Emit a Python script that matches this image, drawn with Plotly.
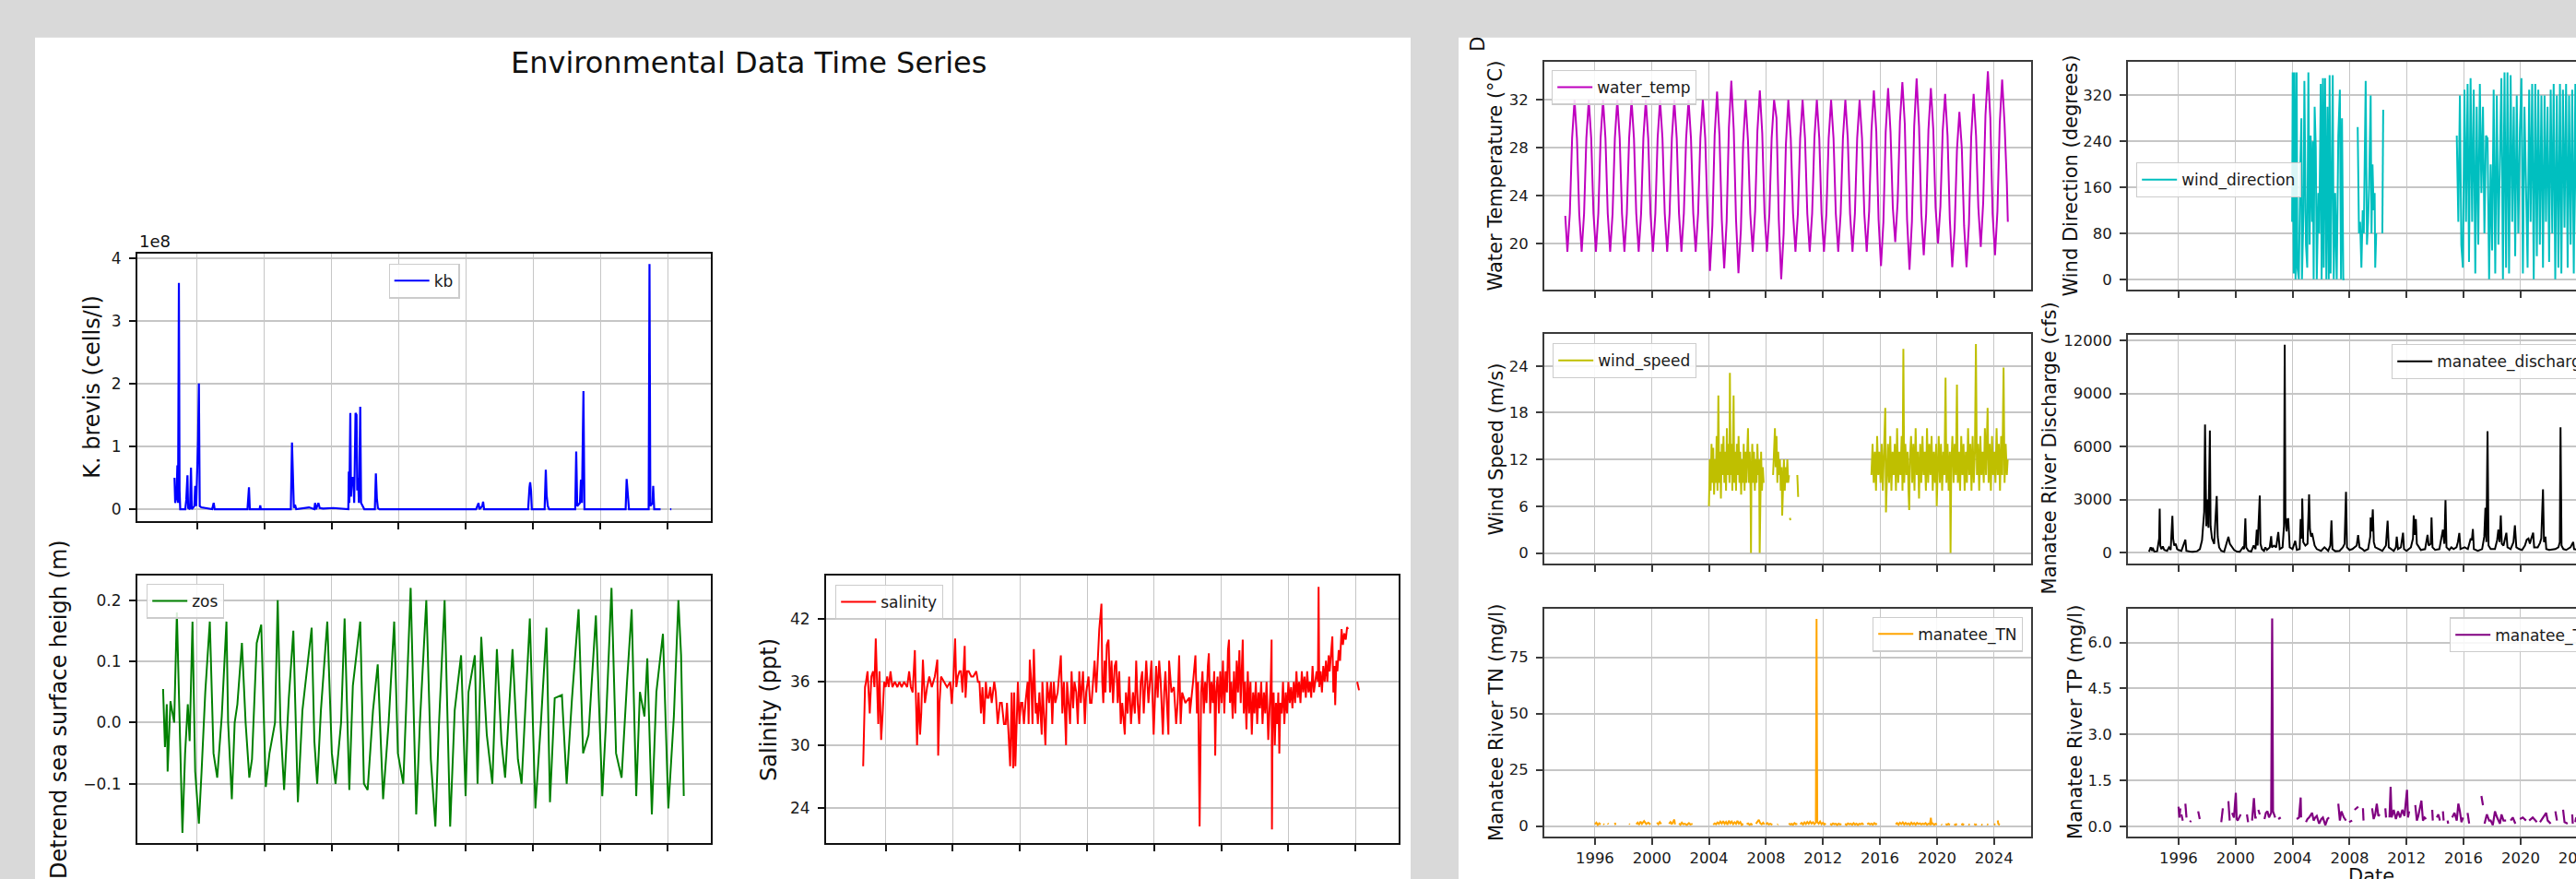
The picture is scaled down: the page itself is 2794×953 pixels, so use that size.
import plotly.graph_objects as go

# ---------------- data ----------------
kb_year = [1994.66, 1994.70, 1994.78, 1994.83, 1994.87, 1994.92, 1994.96, 1995.00,
           1995.30, 1995.36, 1995.43, 1995.47,
           1995.58, 1995.64, 1995.69,
           1995.84, 1995.89, 1995.95,
           1996.06, 1996.11, 1996.16, 1996.25,
           1996.90, 1996.99, 1997.05,
           1999.00, 1999.09, 1999.14,
           1999.72, 1999.76, 1999.80,
           2001.58, 2001.65, 2001.70, 2001.76, 2001.83, 2001.90,
           2002.66,
           2002.98, 2003.02, 2003.08, 2003.22, 2003.30, 2003.50,
           2004.10,
           2005.00, 2005.03, 2005.06, 2005.12, 2005.16, 2005.22, 2005.30, 2005.35, 2005.43,
           2005.49, 2005.53, 2005.58, 2005.63, 2005.71, 2005.76, 2005.86, 2005.95,
           2006.58, 2006.64, 2006.70, 2006.76, 2006.85,
           2009.00, 2012.60,
           2012.75, 2012.80, 2012.97, 2013.02, 2013.08,
           2015.70, 2015.78, 2015.82, 2015.87, 2015.92,
           2016.68, 2016.75, 2016.80, 2016.87, 2016.95,
           2018.50, 2018.56, 2018.62, 2018.78, 2018.84, 2018.90, 2018.99, 2019.05,
           2021.50, 2021.56, 2021.62, 2021.70,
           2022.87, 2022.92, 2022.97, 2023.10, 2023.14, 2023.20, 2023.58,
           None, 2024.15, 2024.22]
kb_cells = [0.5e8, 0.1e8, 0.2e8, 0.7e8, 0.1e8, 3.6e8, 0.3e8, 0,
            0, 0.15e8, 0.54e8, 0.02e8,
            0, 0.66e8, 0,
            0.05e8, 0.37e8, 0.05e8,
            1.1e8, 2.0e8, 0.05e8, 0.03e8,
            0, 0.1e8, 0,
            0, 0.35e8, 0,
            0, 0.06e8, 0,
            0, 1.06e8, 0.35e8, 0.02e8, 0.07e8, 0,
            0.03e8,
            0, 0.1e8, 0, 0.1e8, 0.02e8, 0.01e8,
            0.02e8,
            0, 0.6e8, 0.1e8, 1.53e8, 0.2e8, 0.5e8, 0.5e8, 0.1e8, 1.53e8,
            1.5e8, 0.3e8, 0.5e8, 0.1e8, 1.63e8, 0.1e8, 0.05e8, 0,
            0, 0.57e8, 0.17e8, 0.02e8, 0,
            0, 0,
            0.1e8, 0, 0.05e8, 0.12e8, 0,
            0, 0.35e8, 0.43e8, 0.3e8, 0,
            0, 0.63e8, 0.22e8, 0.05e8, 0,
            0, 0.92e8, 0.05e8, 0.1e8, 0.47e8, 0.1e8, 1.88e8, 0,
            0, 0.48e8, 0.22e8, 0,
            0, 3.9e8, 0.05e8, 0.1e8, 0.37e8, 0, 0,
            None, 0, 0]

zos_year = [1993.98, 1994.09, 1994.20, 1994.25, 1994.42, 1994.64, 1994.80, 1994.96, 1995.13, 1995.29,
            1995.45, 1995.56, 1995.73, 1995.89, 1996.11, 1996.27, 1996.49, 1996.76, 1996.98, 1997.20,
            1997.47, 1997.75, 1997.85, 1998.07, 1998.24, 1998.40, 1998.67, 1998.89, 1999.11, 1999.27,
            1999.55, 1999.82, 2000.09, 2000.31, 2000.53, 2000.64, 2000.80, 2000.96, 2001.18, 2001.46,
            2001.73, 2002.00, 2002.27, 2002.82, 2002.98, 2003.15, 2003.37, 2003.75, 2004.02, 2004.24,
            2004.57, 2004.78, 2005.06, 2005.27, 2005.71, 2005.93, 2006.15, 2006.47, 2006.75, 2007.07,
            2007.40, 2007.73, 2007.95, 2008.27, 2008.71, 2009.04, 2009.26, 2009.64, 2009.91, 2010.18,
            2010.40, 2010.73, 2011.06, 2011.33, 2011.71, 2011.98, 2012.15, 2012.53, 2012.69, 2012.91,
            2013.24, 2013.57, 2013.84, 2014.11, 2014.33, 2014.77, 2015.09, 2015.31, 2015.80, 2016.13,
            2016.46, 2016.79, 2017.00, 2017.28, 2017.71, 2017.99, 2018.31, 2018.70, 2018.97, 2019.29,
            2019.73, 2020.11, 2020.33, 2020.66, 2020.93, 2021.26, 2021.59, 2021.86, 2022.13, 2022.35,
            2022.62, 2022.79, 2023.06, 2023.33, 2023.72, 2024.04, 2024.37, 2024.64, 2024.80, 2024.96]
zos = [0.055, -0.04, 0.03, -0.08, 0.035, 0.0, 0.18, 0.0, -0.18, -0.05,
       0.03, -0.03, 0.165, -0.08, -0.165, -0.08, 0.05, 0.165, -0.05, -0.09,
       0.01, 0.165, 0.0, -0.125, 0.0, 0.03, 0.13, 0.0, -0.09, -0.06,
       0.13, 0.16, -0.105, -0.05, -0.02, 0.0, 0.2, 0.0, -0.11, 0.04,
       0.15, -0.13, 0.02, 0.155, -0.03, -0.1, 0.02, 0.165, -0.05, -0.1,
       0.0, 0.17, -0.11, 0.06, 0.165, -0.1, -0.11, 0.02, 0.095, -0.125,
       0.0, 0.165, -0.05, -0.1, 0.22, -0.15, 0.0, 0.2, -0.06, -0.17,
       0.0, 0.2, -0.17, 0.02, 0.11, -0.12, 0.05, 0.11, -0.1, 0.14,
       -0.02, -0.1, 0.12, -0.03, -0.09, 0.12, -0.06, -0.1, 0.17, -0.14,
       0.0, 0.155, -0.13, 0.04, 0.045, -0.1, 0.04, 0.185, -0.05, -0.02,
       0.175, -0.12, 0.0, 0.22, -0.05, -0.09, 0.07, 0.185, -0.12, 0.05,
       0.01, 0.105, -0.15, 0.05, 0.145, -0.14, 0.01, 0.2, 0.11, -0.12]

salinity_year = [
    1994.66, 1994.72, 1994.77, 1994.83, 1994.92, 1995.05, 1995.15, 1995.25, 1995.33, 1995.41,
    1995.49, 1995.56, 1995.63, 1995.73, 1995.82, 1995.91, 1996.00, 1996.09, 1996.18, 1996.29,
    1996.40, 1996.55, 1996.70, 1996.82, 1996.95, 1997.10, 1997.28, 1997.40, 1997.50, 1997.61,
    1997.74, 1997.87, 1997.96, 1998.05, 1998.12, 1998.22, 1998.34, 1998.47, 1998.60, 1998.75,
    1998.93, 1999.08, 1999.13, 1999.21, 1999.30, 1999.50, 1999.66, 1999.85, 1999.94, 2000.03,
    2000.14, 2000.21, 2000.30, 2000.40, 2000.49, 2000.58, 2000.71, 2000.76, 2000.85, 2000.95,
    2001.10, 2001.22, 2001.40, 2001.50, 2001.59, 2001.68, 2001.77, 2001.86, 2001.97, 2002.05,
    2002.14, 2002.23, 2002.32, 2002.47, 2002.56, 2002.68, 2002.81, 2002.92, 2003.05, 2003.15,
    2003.23, 2003.42, 2003.51, 2003.60, 2003.66, 2003.73, 2003.80, 2003.88, 2003.97, 2004.06,
    2004.15, 2004.24, 2004.33, 2004.46, 2004.52, 2004.59, 2004.68, 2004.75, 2004.83, 2004.94,
    2005.00, 2005.07, 2005.16, 2005.30, 2005.34, 2005.45, 2005.52, 2005.62, 2005.74, 2005.85,
    2005.93, 2006.02, 2006.11, 2006.25, 2006.44, 2006.53, 2006.62, 2006.75, 2006.81, 2006.90,
    2006.99, 2007.08, 2007.17, 2007.25, 2007.36, 2007.45, 2007.54, 2007.63, 2007.76, 2007.87,
    2007.95, 2008.09, 2008.18, 2008.27, 2008.38, 2008.45, 2008.55, 2008.65, 2008.73, 2008.86,
    2008.91, 2008.97, 2009.05, 2009.10, 2009.18, 2009.28, 2009.37, 2009.46, 2009.55, 2009.65,
    2009.74, 2009.83, 2009.92, 2010.01, 2010.10, 2010.25, 2010.32, 2010.42, 2010.51, 2010.62,
    2010.74, 2010.85, 2010.93, 2011.02, 2011.11, 2011.20, 2011.29, 2011.38, 2011.53, 2011.66,
    2011.75, 2011.84, 2011.97, 2012.12, 2012.21, 2012.30, 2012.39, 2012.52, 2012.60, 2012.67,
    2012.85, 2012.89, 2013.03, 2013.18, 2013.31, 2013.40, 2013.49, 2013.58, 2013.67, 2013.86,
    2014.10, 2014.13, 2014.32, 2014.46, 2014.55, 2014.62, 2014.71, 2014.80, 2014.88, 2014.96,
    2015.04, 2015.12, 2015.20, 2015.26, 2015.34, 2015.42, 2015.50, 2015.58, 2015.64, 2015.70,
    2015.78, 2015.86, 2015.94, 2016.02, 2016.10, 2016.18, 2016.26, 2016.34, 2016.40, 2016.46,
    2016.52, 2016.60, 2016.68, 2016.76, 2016.84, 2016.92, 2017.00, 2017.08, 2017.16, 2017.22,
    2017.28, 2017.34, 2017.42, 2017.50, 2017.58, 2017.66, 2017.74, 2017.82, 2017.90, 2017.98,
    2018.06, 2018.14, 2018.22, 2018.30, 2018.38, 2018.46, 2018.54, 2018.62, 2018.70, 2018.80,
    2018.88, 2018.95, 2019.00, 2019.02, 2019.06, 2019.12, 2019.19, 2019.26, 2019.34, 2019.40,
    2019.46, 2019.52, 2019.60, 2019.68, 2019.76, 2019.84, 2019.92, 2020.00, 2020.08, 2020.16,
    2020.24, 2020.32, 2020.40, 2020.48, 2020.56, 2020.64, 2020.72, 2020.80, 2020.88, 2020.96,
    2021.04, 2021.12, 2021.20, 2021.28, 2021.36, 2021.44, 2021.52, 2021.60, 2021.68, 2021.76,
    2021.80, 2021.84, 2021.92, 2022.00, 2022.08, 2022.16, 2022.24, 2022.32, 2022.40, 2022.46,
    2022.54, 2022.62, 2022.68, 2022.74, 2022.79, 2022.86, 2022.92, 2023.00, 2023.08, 2023.17,
    2023.25, 2023.33, 2023.42, 2023.50, 2023.55, None, 2024.10, 2024.21]
salinity = [
    28.0, 33.9, 35.5, 36.0, 37.0, 33.0, 36.5, 37.0, 35.5, 40.1,
    35.0, 32.0, 37.0, 30.5, 33.0, 36.0, 35.5, 36.5, 35.5, 37.0,
    35.5, 36.0, 35.5, 36.0, 35.5, 36.0, 35.5, 37.0, 35.5, 35.0,
    39.0, 30.0, 35.0, 31.0, 33.0, 38.1, 34.0, 35.5, 36.5, 35.5,
    36.5, 38.1, 29.0, 34.0, 36.5, 36.0, 35.5, 36.0, 33.9, 36.0,
    40.1, 35.5, 36.5, 37.0, 37.0, 35.0, 39.4, 34.5, 37.0, 37.0,
    36.5, 36.5, 37.0, 36.0, 36.0, 33.0, 35.5, 32.0, 36.0, 34.5,
    34.5, 35.5, 34.0, 36.0, 35.0, 32.0, 34.0, 34.0, 32.0, 32.0,
    34.0, 28.0, 35.0, 27.8, 35.0, 28.0, 33.0, 36.0, 32.0, 34.0,
    34.0, 32.0, 34.0, 36.0, 32.0, 38.1, 36.0, 32.0, 39.1, 33.0,
    34.0, 32.0, 35.0, 31.0, 36.0, 33.0, 30.0, 36.0, 34.0, 36.0,
    32.0, 36.0, 34.0, 35.0, 38.5, 33.0, 36.0, 30.0, 36.0, 34.0,
    32.0, 37.0, 33.5, 36.0, 35.0, 32.0, 37.0, 34.0, 37.0, 32.0,
    35.0, 36.5, 34.0, 34.0, 37.0, 38.0, 35.0, 39.0, 41.0, 43.4,
    36.0, 34.0, 38.0, 35.0, 39.5, 40.0, 35.0, 38.0, 34.0, 37.5,
    38.0, 34.0, 37.0, 32.0, 34.0, 31.0, 35.0, 33.0, 36.5, 32.0,
    35.0, 33.0, 38.0, 34.0, 32.0, 36.0, 37.0, 33.0, 38.0, 34.0,
    36.0, 38.0, 31.0, 37.5, 34.5, 38.0, 36.0, 31.0, 35.0, 37.0,
    31.0, 38.0, 35.0, 35.5, 32.0, 34.0, 38.5, 32.0, 35.0, 34.0,
    34.5, 33.0, 36.0, 38.5, 33.0, 36.0, 22.3, 35.0, 37.0, 33.0,
    36.0, 34.0, 37.5, 38.7, 33.0, 36.0, 34.0, 37.0, 29.0, 35.0,
    36.5, 33.0, 37.0, 34.0, 38.0, 33.0, 37.0, 35.0, 39.0, 40.0,
    34.0, 36.0, 32.5, 37.0, 33.0, 38.0, 35.0, 39.0, 34.0, 37.0,
    40.0, 33.0, 36.0, 31.5, 37.0, 33.0, 36.0, 31.0, 35.0, 33.0,
    36.0, 32.0, 35.0, 33.5, 36.0, 32.0, 35.0, 33.0, 36.0, 30.5,
    34.0, 36.0, 40.0, 22.0, 33.0, 35.0, 30.0, 34.0, 32.0, 35.0,
    29.2, 34.0, 33.0, 36.0, 32.0, 35.0, 33.0, 36.0, 34.0, 35.5,
    33.5, 36.0, 34.0, 37.0, 34.5, 36.0, 34.0, 37.0, 35.0, 36.5,
    34.5, 37.0, 35.0, 36.0, 34.5, 37.5, 35.0, 36.0, 37.0, 36.0,
    45.0, 35.5, 37.0, 35.0, 37.5, 36.0, 38.0, 36.0, 38.5, 37.0,
    39.0, 40.3, 35.0, 37.5, 33.8, 38.0, 37.0, 39.0, 38.0, 41.0,
    39.5, 40.6, 40.0, 41.2, 41.0, None, 36.0, 35.2]

water_temp_year = [
    1993.92, 1994.00, 1994.07, 1994.24, 1994.40, 1994.57, 1994.74, 1994.90,
    1995.07, 1995.24, 1995.40, 1995.57, 1995.74, 1995.90,
    1996.07, 1996.24, 1996.40, 1996.57, 1996.74, 1996.90,
    1997.07, 1997.24, 1997.40, 1997.57, 1997.74, 1997.90,
    1998.07, 1998.24, 1998.40, 1998.57, 1998.74, 1998.90,
    1999.07, 1999.24, 1999.40, 1999.57, 1999.74, 1999.90,
    2000.07, 2000.24, 2000.40, 2000.57, 2000.74, 2000.90,
    2001.07, 2001.24, 2001.40, 2001.57, 2001.74, 2001.90,
    2002.07, 2002.24, 2002.40, 2002.57, 2002.74, 2002.90,
    2003.07, 2003.24, 2003.40, 2003.57, 2003.74, 2003.90,
    2004.07, 2004.24, 2004.40, 2004.57, 2004.74, 2004.90,
    2005.07, 2005.24, 2005.40, 2005.57, 2005.74, 2005.90,
    2006.07, 2006.24, 2006.40, 2006.57, 2006.74, 2006.90,
    2007.07, 2007.24, 2007.40, 2007.57, 2007.74, 2007.90,
    2008.07, 2008.24, 2008.40, 2008.57, 2008.74, 2008.90,
    2009.07, 2009.24, 2009.40, 2009.57, 2009.74, 2009.90,
    2010.07, 2010.24, 2010.40, 2010.57, 2010.74, 2010.90,
    2011.07, 2011.24, 2011.40, 2011.57, 2011.74, 2011.90,
    2012.07, 2012.24, 2012.40, 2012.57, 2012.74, 2012.90,
    2013.07, 2013.24, 2013.40, 2013.57, 2013.74, 2013.90,
    2014.07, 2014.24, 2014.40, 2014.57, 2014.74, 2014.90,
    2015.07, 2015.24, 2015.40, 2015.57, 2015.74, 2015.90,
    2016.07, 2016.24, 2016.40, 2016.57, 2016.74, 2016.90,
    2017.07, 2017.24, 2017.40, 2017.57, 2017.74, 2017.90,
    2018.07, 2018.24, 2018.40, 2018.57, 2018.74, 2018.90,
    2019.07, 2019.24, 2019.40, 2019.57, 2019.74, 2019.90,
    2020.07, 2020.24, 2020.40, 2020.57, 2020.74, 2020.90,
    2021.07, 2021.24, 2021.40, 2021.57, 2021.74, 2021.90,
    2022.07, 2022.24, 2022.40, 2022.57, 2022.74, 2022.90,
    2023.07, 2023.24, 2023.40, 2023.57, 2023.74, 2023.90,
    2024.07, 2024.24, 2024.40, 2024.57, 2024.74, 2024.90,
    2024.97]
water_temp = [
    22.3, 21.0, 19.3, 22.5, 28.8, 32.0, 28.8, 22.5,
    19.3, 22.5, 28.8, 32.0, 28.8, 22.5,
    19.3, 22.5, 28.8, 32.0, 28.8, 22.5,
    19.3, 22.5, 28.8, 32.0, 28.8, 22.5,
    19.3, 22.5, 28.8, 32.0, 28.8, 22.5,
    19.3, 22.5, 28.8, 32.0, 28.8, 22.5,
    19.3, 22.5, 28.8, 32.0, 28.8, 22.5,
    19.3, 22.5, 28.8, 32.0, 28.8, 22.5,
    19.3, 22.5, 28.8, 32.0, 28.8, 22.5,
    19.3, 22.5, 28.8, 32.0, 28.8, 22.5,
    17.7, 21.5, 29.0, 32.7, 29.0, 22.0,
    17.9, 21.8, 29.7, 33.6, 29.5, 22.0,
    17.5, 21.1, 28.4, 32.0, 28.6, 22.5,
    19.3, 22.7, 29.4, 32.8, 29.2, 22.5,
    19.3, 22.5, 28.8, 32.0, 30.5, 22.0,
    17.0, 20.8, 28.3, 32.0, 28.8, 22.5,
    19.3, 22.5, 28.8, 32.0, 28.8, 22.5,
    19.3, 22.5, 28.8, 32.0, 28.8, 22.5,
    19.3, 22.5, 28.8, 32.0, 28.8, 22.5,
    19.3, 22.5, 28.8, 32.0, 28.8, 22.5,
    19.3, 22.5, 28.8, 32.0, 28.8, 22.5,
    19.3, 22.7, 29.4, 32.8, 29.4, 22.0,
    18.1, 21.8, 29.3, 33.0, 29.3, 23.0,
    20.1, 23.5, 30.2, 33.5, 30.0, 22.0,
    17.8, 21.8, 29.8, 33.8, 29.8, 22.5,
    19.0, 22.5, 29.5, 33.0, 29.5, 23.0,
    20.0, 23.1, 29.4, 32.5, 29.0, 22.0,
    18.0, 21.3, 27.8, 31.0, 28.0, 21.5,
    18.0, 21.6, 28.9, 32.5, 29.0, 23.0,
    19.7, 23.4, 30.7, 34.4, 30.5, 22.5,
    19.0, 22.7, 30.0, 33.7, 30.0, 25.0,
    21.8]

wind_direction_year = [
    2003.97, 2004.01, 2004.08, 2004.14, 2004.21, 2004.29, 2004.34, 2004.44, 2004.55, 2004.62,
    2004.66, 2004.77, 2004.83, 2004.94, 2005.03, 2005.11, 2005.20, 2005.27, 2005.37, 2005.42,
    2005.48, 2005.55, 2005.63, 2005.70, 2005.81, 2005.87, 2005.98, 2006.04, 2006.13, 2006.19,
    2006.28, 2006.37, 2006.45, 2006.54, 2006.60, 2006.67, 2006.76, 2006.82, 2006.89, 2006.99,
    2007.10, 2007.21, 2007.32, 2007.40, 2007.47, 2007.56, 2007.64, None,
    2008.57, 2008.66, 2008.74, 2008.83, 2008.92, 2009.00, 2009.13, 2009.22, 2009.30, 2009.37,
    2009.48, 2009.54, 2009.61, 2009.69, 2009.76, 2009.80, 2009.87, None, 2010.30, 2010.36, None,
    2015.52, 2015.63, 2015.74, 2015.84, 2015.95, 2016.06, 2016.17, 2016.28, 2016.38, 2016.49,
    2016.60, 2016.71, 2016.82, 2016.92, 2017.03, 2017.14, 2017.25, 2017.36, 2017.46, 2017.57,
    2017.68, 2017.79, 2017.90, 2018.00, 2018.11, 2018.22, 2018.33, 2018.44, 2018.54, 2018.65,
    2018.76, 2018.87, 2018.98, 2019.08, 2019.19, 2019.30, 2019.41, 2019.52, 2019.62, 2019.73,
    2019.84, 2019.95, 2020.06, 2020.16, 2020.27, 2020.38, 2020.49, 2020.60, 2020.70, 2020.81,
    2020.92, 2021.03, 2021.14, 2021.24, 2021.35, 2021.46, 2021.57, 2021.68, 2021.78, 2021.89,
    2022.00, 2022.11, 2022.22, 2022.32, 2022.43, 2022.54, 2022.65, 2022.76, 2022.86, 2022.97,
    2023.08, 2023.19, 2023.30, 2023.40, 2023.51, 2023.62, 2023.73, 2023.84, 2023.94,
    2024.20, 2024.50, 2024.90]
wind_direction = [
    100, 360, 10, 360, 0, 360, 20, 0, 200, 280,
    0, 120, 345, 60, 20, 360, 60, 250, 100, 240,
    0, 300, 230, 0, 150, 80, 340, 0, 350, 20,
    350, 0, 300, 0, 355, 10, 200, 355, 0, 150,
    0, 250, 330, 0, 280, 0, 0, None,
    265, 80, 100, 20, 120, 80, 345, 60, 100, 160,
    320, 80, 200, 120, 150, 20, 80, None, 80, 295, None,
    250, 100, 320, 60, 20, 330, 100, 340, 30, 350,
    100, 330, 10, 300, 60, 340, 150, 300, 80, 250,
    245, 0, 200, 50, 330, 10, 320, 60, 200, 350,
    0, 360, 20, 360, 10, 355, 100, 300, 40, 320,
    80, 260, 350, 10, 300, 150, 20, 330, 100, 340,
    0, 340, 40, 330, 60, 320, 20, 320, 100, 300,
    30, 330, 80, 340, 0, 320, 20, 340, 10, 330,
    90, 340, 20, 320, 60, 330, 10, 340, 80,
    300, 40, 250]

wind_speed_year = [
    2004.00, 2004.06, 2004.12, 2004.18, 2004.24, 2004.30, 2004.36, 2004.42, 2004.48, 2004.54,
    2004.60, 2004.66, 2004.72, 2004.78, 2004.84, 2004.90, 2004.96, 2005.02, 2005.08, 2005.14,
    2005.20, 2005.26, 2005.32, 2005.38, 2005.44, 2005.47, 2005.52, 2005.58, 2005.64, 2005.70,
    2005.73, 2005.78, 2005.84, 2005.90, 2005.96, 2006.02, 2006.08, 2006.14, 2006.20, 2006.26,
    2006.32, 2006.38, 2006.44, 2006.50, 2006.56, 2006.62, 2006.68, 2006.74, 2006.80, 2006.86,
    2006.92, 2006.95, 2006.98, 2007.04, 2007.10, 2007.16, 2007.22, 2007.28, 2007.34, 2007.40,
    2007.46, 2007.52, 2007.56, 2007.60, 2007.66, 2007.72, 2007.78, 2007.84, None,
    2008.50, 2008.56, 2008.63, 2008.68, 2008.74, 2008.80, 2008.86, 2008.92, 2008.98, 2009.04,
    2009.10, 2009.14, 2009.20, 2009.26, 2009.32, 2009.38, 2009.44, 2009.50, 2009.56, 2009.62,
    None, 2009.68, 2009.72, None, 2010.20, 2010.26, None,
    2015.40, 2015.48, 2015.56, 2015.64, 2015.72, 2015.80, 2015.88, 2015.96, 2016.04, 2016.12,
    2016.20, 2016.28, 2016.37, 2016.42, 2016.48, 2016.56, 2016.64, 2016.72, 2016.80, 2016.88,
    2016.96, 2017.04, 2017.12, 2017.20, 2017.28, 2017.36, 2017.44, 2017.52, 2017.58, 2017.64,
    2017.70, 2017.78, 2017.86, 2017.94, 2018.00, 2018.05, 2018.10, 2018.18, 2018.26, 2018.34,
    2018.42, 2018.50, 2018.58, 2018.66, 2018.74, 2018.82, 2018.90, 2018.98, 2019.06, 2019.14,
    2019.22, 2019.30, 2019.38, 2019.46, 2019.54, 2019.62, 2019.70, 2019.78, 2019.86, 2019.94,
    2019.98, 2020.04, 2020.12, 2020.20, 2020.28, 2020.36, 2020.44, 2020.52, 2020.60, 2020.66,
    2020.74, 2020.82, 2020.90, 2020.95, 2021.00, 2021.08, 2021.16, 2021.24, 2021.32, 2021.40,
    2021.46, 2021.54, 2021.62, 2021.70, 2021.78, 2021.86, 2021.94, 2022.02, 2022.10, 2022.18,
    2022.26, 2022.34, 2022.42, 2022.50, 2022.58, 2022.66, 2022.73, 2022.80, 2022.88, 2022.96,
    2023.04, 2023.12, 2023.20, 2023.28, 2023.36, 2023.44, 2023.50, 2023.55, 2023.62, 2023.70,
    2023.78, 2023.86, 2023.94, 2024.02, 2024.10, 2024.18, 2024.26, 2024.34, 2024.42, 2024.50,
    2024.58, 2024.67, 2024.74, 2024.82, 2024.90, 2024.96]
wind_speed = [
    6.0, 12, 8, 14, 9, 13.5, 7.5, 12, 9, 15,
    8, 20.2, 9, 13, 7, 14, 10, 15, 9, 13,
    8, 16, 10, 14, 9, 23.1, 10, 14, 8, 15,
    20.2, 9, 13, 8, 14, 10, 15, 9, 13, 7.5,
    12, 9, 14, 8, 13, 9, 12, 16, 9, 13,
    8, 0.0, 10, 14, 9, 13, 8, 12, 9, 14,
    10, 12, 0.0, 9, 13, 8, 11, 9, None,
    10, 14, 16, 11, 15, 9, 13, 10, 12, 8,
    11, 4.8, 10, 12, 8, 11, 9, 12, 9, 10,
    None, 4.5, 4.2, None, 10, 7.2, None,
    10, 14, 9, 13, 8, 15, 10, 13, 9, 14,
    8, 12, 18.6, 5.2, 11, 14, 9, 15, 8, 13,
    10, 14, 8, 16, 9, 13, 10, 15, 8, 26.2,
    9, 14, 10, 13, 8, 5.5, 12, 15, 9, 14,
    8, 16, 10, 13, 7, 14, 9, 15, 10, 13,
    8, 16, 9, 14, 10, 15, 8, 13, 9, 14,
    6.0, 11, 15, 9, 14, 8, 13, 10, 22.5, 9,
    14, 8, 13, 0.0, 11, 15, 9, 14, 10, 21.6,
    9, 13, 8, 15, 10, 14, 8, 13, 9, 16,
    10, 14, 8, 15, 9, 13, 26.8, 10, 14, 8,
    15, 10, 13, 9, 16, 10, 14, 18.6, 9, 14,
    8, 15, 10, 13, 9, 16, 10, 14, 8, 15,
    10, 23.8, 9, 14, 10, 12]

discharge_year = [
    1993.93, 1994.05, 1994.15, 1994.19, 1994.30, 1994.50, 1994.64, 1994.68, 1994.72, 1994.80,
    1994.90, 1995.00, 1995.20, 1995.33, 1995.45, 1995.57, 1995.62, 1995.70, 1995.80, 1995.90,
    1996.00, 1996.20, 1996.48, 1996.55, 1996.80, 1997.00, 1997.30, 1997.50, 1997.65, 1997.71,
    1997.80, 1997.86, 1997.90, 1997.95, 1998.03, 1998.10, 1998.20, 1998.25, 1998.35, 1998.50,
    1998.68, 1998.75, 1998.85, 1999.00, 1999.20, 1999.40, 1999.50, 1999.60, 1999.75, 1999.90,
    2000.10, 2000.30, 2000.51, 2000.60, 2000.69, 2000.75, 2000.90, 2001.10, 2001.27, 2001.40,
    2001.49, 2001.55, 2001.70, 2001.75, 2001.85, 2002.00, 2002.09, 2002.20, 2002.40, 2002.50,
    2002.55, 2002.70, 2002.85, 2003.00, 2003.10, 2003.30, 2003.40, 2003.45, 2003.50, 2003.58,
    2003.65, 2003.70, 2003.80, 2004.00, 2004.19, 2004.30, 2004.50, 2004.57, 2004.65, 2004.68,
    2004.75, 2004.90, 2005.05, 2005.16, 2005.22, 2005.30, 2005.37, 2005.45, 2005.55, 2005.70,
    2006.00, 2006.24, 2006.50, 2006.65, 2006.73, 2006.80, 2007.00, 2007.30, 2007.53, 2007.65,
    2007.75, 2007.82, 2008.00, 2008.20, 2008.50, 2008.60, 2008.70, 2008.90, 2009.04, 2009.30,
    2009.45, 2009.48, 2009.55, 2009.63, 2009.70, 2009.80, 2009.95, 2010.10, 2010.30, 2010.55,
    2010.67, 2010.75, 2010.90, 2011.10, 2011.25, 2011.31, 2011.40, 2011.60, 2011.75, 2011.82,
    2012.00, 2012.30, 2012.45, 2012.50, 2012.57, 2012.65, 2012.72, 2012.85, 2013.00, 2013.30,
    2013.47, 2013.55, 2013.70, 2013.75, 2013.82, 2014.00, 2014.30, 2014.55, 2014.65, 2014.73,
    2014.80, 2015.00, 2015.14, 2015.30, 2015.50, 2015.60, 2015.70, 2015.78, 2016.07, 2016.30,
    2016.45, 2016.50, 2016.58, 2016.65, 2016.72, 2017.00, 2017.30, 2017.45, 2017.53, 2017.60,
    2017.68, 2017.75, 2017.90, 2018.20, 2018.35, 2018.44, 2018.52, 2018.61, 2018.68, 2018.80,
    2019.00, 2019.08, 2019.30, 2019.50, 2019.60, 2019.70, 2019.90, 2020.10, 2020.30, 2020.43,
    2020.55, 2020.65, 2020.75, 2020.88, 2020.95, 2021.20, 2021.36, 2021.45, 2021.57, 2021.64,
    2021.74, 2021.80, 2022.00, 2022.44, 2022.65, 2022.75, 2022.80, 2022.87, 2023.00, 2023.20,
    2023.50, 2023.69, 2023.75, 2024.00]
discharge = [
    50, 300, 100, 280, 60, 80, 800, 2490, 400, 200,
    350, 150, 100, 300, 150, 2080, 800, 400, 500, 200,
    150, 100, 730, 100, 60, 50, 80, 200, 700, 1500,
    2300, 7250, 2000, 1500, 3000, 1400, 6900, 1500, 800, 500,
    3200, 900, 300, 100, 50, 700, 900, 500, 300, 150,
    60, 50, 300, 200, 1940, 300, 100, 60, 400, 200,
    1300, 400, 3230, 500, 200, 100, 300, 150, 300, 930,
    300, 400, 300, 1160, 200, 300, 1500, 11750, 2000, 1200,
    1900, 1900, 300, 200, 670, 150, 200, 1900, 800, 3060,
    600, 400, 500, 3290, 1330, 900, 1100, 800, 400, 200,
    100, 300, 100, 400, 1820, 200, 80, 100, 300, 500,
    3440, 300, 150, 200, 400, 990, 300, 200, 100, 200,
    900, 1990, 1200, 2450, 600, 300, 250, 200, 100, 400,
    1800, 300, 200, 100, 300, 900, 200, 300, 1120, 200,
    100, 300, 800, 2110, 1000, 1900, 500, 300, 150, 200,
    1000, 400, 500, 1990, 300, 150, 200, 1300, 500, 2970,
    300, 150, 300, 200, 300, 600, 1110, 200, 300, 200,
    600, 800, 700, 1330, 200, 100, 200, 900, 2540, 600,
    6860, 400, 200, 200, 700, 1300, 600, 2110, 500, 400,
    1120, 300, 200, 600, 1540, 300, 200, 150, 400, 730,
    800, 500, 800, 1120, 300, 300, 550, 800, 3580, 600,
    900, 200, 150, 200, 300, 600, 7090, 400, 200, 150,
    300, 600, 200, 150]

tn_year = [
    1996.00, 1996.10, 1996.20, 1996.30, 1996.40, None,
    1996.60, 1996.65, None, 1996.90, 1996.95, None, 1997.40, 1997.45, None, 1998.40, 1998.45, None,
    1998.90, 1999.00, 1999.10, 1999.20, 1999.30, 1999.45, 1999.60, 1999.75, 1999.90, None,
    2000.35, 2000.45, 2000.55, 2000.65, None,
    2001.20, 2001.30, 2001.40, 2001.50, 2001.57, 2001.62, None,
    2001.90, 2002.00, 2002.10, 2002.20, 2002.30, 2002.45, 2002.60, 2002.70, 2002.85, None,
    2004.30, 2004.40, 2004.50, 2004.60, 2004.70, 2004.80, 2004.90, 2005.00, 2005.10, 2005.20,
    2005.30, 2005.40, 2005.50, 2005.60, 2005.70, 2005.80, 2005.90, 2006.00, 2006.10, 2006.20,
    2006.30, 2006.40, None,
    2006.65, 2006.75, 2006.85, 2006.95, 2007.05, None,
    2007.30, 2007.40, 2007.50, 2007.60, 2007.70, 2007.80, 2007.90, None,
    2008.00, 2008.10, 2008.20, 2008.30, 2008.45, None, 2008.80, 2008.85, None,
    2009.60, 2009.70, 2009.80, 2009.90, 2010.00, 2010.10, 2010.20, None,
    2010.40, 2010.50, 2010.60, 2010.70, 2010.80, 2010.90, 2011.00, 2011.10, 2011.20, 2011.30,
    2011.40, 2011.50, 2011.55, 2011.60, 2011.70, 2011.80, 2011.90, 2012.00, 2012.10, 2012.20, None,
    2012.50, 2012.60, 2012.70, 2012.80, 2012.90, 2013.00, 2013.10, 2013.20, 2013.30, None,
    2013.55, 2013.65, 2013.75, 2013.85, 2013.95, 2014.05, 2014.15, 2014.25, 2014.35, 2014.45,
    2014.55, 2014.65, 2014.75, 2014.85, None,
    2015.10, 2015.20, 2015.30, 2015.40, 2015.50, 2015.60, 2015.70, 2015.80, None,
    2017.10, 2017.20, 2017.30, 2017.40, 2017.50, 2017.60, 2017.70, 2017.80, 2017.90, 2018.00,
    2018.10, 2018.20, 2018.30, 2018.40, 2018.50, 2018.60, 2018.70, 2018.80, 2018.90, 2019.00,
    2019.10, 2019.20, 2019.30, 2019.40, 2019.50, 2019.57, 2019.62, 2019.70, 2019.80, 2019.90,
    2020.00, None, 2020.30, 2020.35, None, 2020.60, 2020.70, 2020.80, 2020.90, None,
    2021.20, 2021.30, 2021.40, None, 2021.70, 2021.80, 2021.90, None, 2022.20, 2022.30, None,
    2022.60, 2022.70, 2022.80, None, 2023.10, 2023.20, None, 2023.50, 2023.60, None,
    2024.00, 2024.10, None, 2024.26, 2024.30, 2024.40]
manatee_tn = [
    0.8, 1.5, 0.5, 1.2, 0.7, None,
    1.0, 0.6, None, 1.2, 0.8, None, 1.5, 0.5, None, 1.0, 0.7, None,
    0.8, 1.5, 0.6, 2.0, 1.0, 2.2, 0.9, 1.5, 0.7, None,
    1.5, 0.8, 1.8, 0.9, None,
    1.0, 1.8, 0.8, 2.0, 2.9, 0.7, None,
    1.2, 0.6, 1.5, 0.8, 1.0, 0.5, 1.3, 0.7, 1.0, None,
    0.6, 1.2, 0.8, 1.6, 1.0, 2.0, 1.1, 2.2, 1.0, 1.8,
    0.6, 2.4, 1.2, 2.0, 0.9, 1.7, 1.0, 2.3, 1.1, 1.8,
    0.5, 1.0, None,
    0.8, 1.2, 0.6, 1.0, 0.5, None,
    1.0, 1.8, 2.8, 1.2, 0.8, 1.5, 0.7, None,
    0.8, 1.3, 0.7, 1.0, 0.6, None, 0.6, 0.9, None,
    1.2, 0.7, 1.0, 0.6, 1.3, 0.8, 1.0, None,
    0.8, 1.4, 0.7, 1.6, 0.9, 1.8, 1.0, 2.0, 1.1, 1.7,
    0.9, 1.5, 92.0, 1.8, 1.0, 2.0, 0.8, 1.5, 0.7, 1.2, None,
    1.0, 0.6, 1.2, 0.8, 1.0, 0.5, 1.1, 0.7, 0.9, None,
    1.0, 0.5, 1.2, 0.8, 1.0, 0.6, 1.3, 0.7, 1.1, 0.5,
    1.0, 0.8, 1.2, 0.6, None,
    0.8, 1.2, 0.7, 1.1, 0.6, 1.3, 0.8, 1.0, None,
    0.8, 1.3, 0.6, 1.5, 0.9, 1.6, 0.7, 1.4, 0.8, 1.2,
    0.6, 1.5, 0.8, 1.3, 0.6, 1.4, 0.9, 1.2, 0.7, 1.1,
    0.8, 1.3, 0.6, 1.0, 0.8, 3.7, 0.9, 1.2, 0.6, 1.0,
    0.7, None, 0.8, 0.5, None, 0.9, 0.6, 1.0, 0.5, None,
    0.8, 0.5, 1.0, None, 0.6, 0.9, 0.5, None, 0.8, 0.5, None,
    0.9, 0.6, 0.8, None, 0.7, 0.5, None, 0.8, 0.6, None,
    0.6, 0.9, None, 2.5, 1.0, 0.5]

tp_year = [
    1996.00, 1996.06, 1996.13, None, 1996.20, 1996.30, None, 1996.48, 1996.56, None,
    1996.82, 1996.86, None, 1997.38, 1997.49, None, 1999.00, 1999.11, None,
    1999.50, 1999.59, None,
    1999.76, 1999.89, 2000.02, 2000.08, 2000.15, 2000.23, 2000.36, None,
    2000.80, 2000.88, None,
    2001.16, 2001.29, 2001.38, 2001.49, None, 2001.60, 2001.70, None,
    2002.03, 2002.13, 2002.24, 2002.35, 2002.50, 2002.57, 2002.63, 2002.78, None,
    2003.00, 2003.17, None,
    2004.29, 2004.45, 2004.57, 2004.60, None,
    2004.94, 2005.05, 2005.16, 2005.37, 2005.48, 2005.59, 2005.70, 2005.86, 2006.02, 2006.13,
    2006.30, 2006.45, 2006.56, None,
    2007.21, 2007.32, 2007.43, 2007.60, 2007.75, None, 2007.97, 2008.18, None,
    2008.35, 2008.61, None, 2008.94, 2008.98, None,
    2009.58, 2009.69, 2009.80, 2009.91, 2010.02, 2010.12, None, 2010.51, 2010.56, None,
    2010.80, 2010.88, 2010.95, 2011.10, 2011.25, 2011.40, 2011.55, 2011.70, 2011.85, 2012.03,
    2012.10, 2012.18, None,
    2012.61, 2012.72, 2012.82, 2013.04, 2013.15, 2013.26, 2013.37, None,
    2013.80, 2013.84, None, 2014.12, 2014.23, 2014.34, None, 2014.55, 2014.60, None,
    2014.88, 2014.92, None,
    2015.20, 2015.36, 2015.52, 2015.63, 2015.74, 2015.85, 2015.96, None, 2016.28, 2016.39, None,
    2017.25, 2017.36, None,
    2017.47, 2017.63, 2017.79, 2017.90, 2018.05, 2018.20, 2018.35, 2018.55, 2018.66, 2018.80,
    2018.98, None,
    2019.30, 2019.45, 2019.63, None, 2019.95, 2020.15, 2020.38, None,
    2020.60, 2020.85, 2021.14, None,
    2021.36, 2021.55, 2021.79, 2021.90, 2022.11, None, 2022.44, 2022.55, None,
    2022.98, 2023.08, 2023.30, None, 2023.62, 2023.66, None, 2023.84, 2023.90]
manatee_tp = [
    0.65, 0.30, 0.60, None, 0.40, 0.20, None, 0.75, 0.30, None,
    0.15, 0.20, None, 0.50, 0.25, None, 0.15, 0.60, None,
    0.83, 0.20, None,
    0.45, 0.30, 1.10, 0.25, 0.20, 0.30, 0.40, None,
    0.40, 0.15, None,
    0.20, 0.93, 0.30, 0.30, None, 0.55, 0.40, None,
    0.25, 0.45, 0.50, 0.30, 0.45, 6.78, 0.50, 0.30, None,
    0.25, 0.30, None,
    0.25, 0.30, 0.95, 0.30, None,
    0.15, 0.25, 0.30, 0.45, 0.20, 0.30, 0.35, 0.10, 0.25, 0.30,
    0.05, 0.25, 0.30, None,
    0.75, 0.20, 0.50, 0.30, 0.20, None, 0.15, 0.20, None,
    0.55, 0.65, None, 0.60, 0.20, None,
    0.60, 0.25, 0.40, 0.75, 0.35, 0.40, None, 0.60, 0.30, None,
    0.30, 1.30, 0.30, 0.55, 0.25, 0.50, 0.30, 0.55, 0.35, 1.20,
    0.30, 0.50, None,
    0.70, 0.20, 0.35, 0.85, 0.20, 0.30, 0.25, None,
    0.55, 0.20, None, 0.30, 0.40, 0.20, None, 0.50, 0.20, None,
    0.20, 0.10, None,
    0.30, 0.45, 0.20, 0.75, 0.50, 0.15, 0.30, None, 0.45, 0.10, None,
    1.00, 0.70, None,
    0.10, 0.40, 0.20, 0.20, 0.05, 0.50, 0.30, 0.10, 0.40, 0.20,
    0.20, None,
    0.20, 0.30, 0.10, None, 0.25, 0.30, 0.20, None,
    0.20, 0.30, 0.15, None,
    0.15, 0.30, 0.45, 0.20, 0.10, None, 0.50, 0.20, None,
    0.55, 0.15, 0.10, None, 0.40, 0.10, None, 0.15, 0.30]

year_ticks = [1996, 2000, 2004, 2008, 2012, 2016, 2020, 2024]

for a, b in [(kb_year, kb_cells), (zos_year, zos), (salinity_year, salinity),
             (water_temp_year, water_temp), (wind_direction_year, wind_direction),
             (wind_speed_year, wind_speed), (discharge_year, discharge),
             (tn_year, manatee_tn), (tp_year, manatee_tp)]:
    assert len(a) == len(b), (len(a), len(b))

# ---------------- layout helpers ----------------
# The page window is 2794 px wide; the figure is a little wider so that the right-hand
# column runs past the window edge (as in the reference, where it is clipped).
W, H = 2860, 953
FONT = "DejaVu Sans"
GRID = "#c6c6c6"


def fx(px):
    return px / W


def fy(py):
    return 1 - py / H


X_RANGE = [1992.45, 2026.57]

panels = [
    dict(name="kb", x=kb_year, y=kb_cells, color="#0000ff", box=(149, 771, 271, 563),
         yr=[-0.19e8, 4.073e8], yt=[0, 1e8, 2e8, 3e8, 4e8], ytt=["0", "1", "2", "3", "4"],
         xl=False, fs=17, lc="#111111", lw=2.2,
         leg=dict(x=460, y=282, xa="center", ya="top"),
         label="K. brevis (cells/l)", lpos=(100, 417), ls=24),
    dict(name="zos", x=zos_year, y=zos, color="#008000", box=(149, 771, 622, 914),
         yr=[-0.197, 0.2406], yt=[-0.1, 0.0, 0.1, 0.2], ytt=["\u22120.1", "0.0", "0.1", "0.2"],
         xl=False, fs=17, lc="#111111", lw=2.0,
         leg=dict(x=159, y=631, xa="left", ya="top"),
         label="Detrend sea surface heigh (m)", lpos=(64, 768), ls=24),
    dict(name="salinity", x=salinity_year, y=salinity, color="#ff0000", box=(896, 1517, 622, 914),
         yr=[20.7, 46.1], yt=[24, 30, 36, 42], ytt=["24", "30", "36", "42"],
         xl=False, fs=17, lc="#111111", lw=2.0,
         leg=dict(x=906, y=632, xa="left", ya="top"),
         label="Salinity (ppt)", lpos=(834, 768), ls=24),
    dict(name="water_temp", x=water_temp_year, y=water_temp, color="#bf00bf", box=(1675, 2202.5, 62, 311),
         yr=[16.1, 35.22], yt=[20, 24, 28, 32], ytt=["20", "24", "28", "32"],
         xl=False, fs=16.5, lc="#3a3a3a", lw=2.0,
         leg=dict(x=1683, y=71, xa="left", ya="top"),
         label="Water Temperature (\u00b0C)", lpos=(1622, 186.5), ls=21),
    dict(name="wind_direction", x=wind_direction_year, y=wind_direction, color="#00bfbf", box=(2308, 2835.5, 62, 311),
         yr=[-18.7, 379], yt=[0, 80, 160, 240, 320], ytt=["0", "80", "160", "240", "320"],
         xl=False, fs=16.5, lc="#3a3a3a", lw=2.0,
         leg=dict(x=2317, y=172, xa="left", ya="top"),
         label="Wind Direction (degrees)", lpos=(2246, 186.5), ls=21),
    dict(name="wind_speed", x=wind_speed_year, y=wind_speed, color="#bfbf00", box=(1675, 2202.5, 359, 608.7),
         yr=[-1.3, 28.1], yt=[0, 6, 12, 18, 24], ytt=["0", "6", "12", "18", "24"],
         xl=False, fs=16.5, lc="#3a3a3a", lw=2.0,
         leg=dict(x=1684, y=369, xa="left", ya="top"),
         label="Wind Speed (m/s)", lpos=(1623, 484), ls=21),
    dict(name="manatee_discharge", x=discharge_year, y=discharge, color="#000000", box=(2308, 2835.5, 360, 608.7),
         yr=[-592, 12311], yt=[0, 3000, 6000, 9000, 12000], ytt=["0", "3000", "6000", "9000", "12000"],
         xl=False, fs=16.5, lc="#3a3a3a", lw=2.0,
         leg=dict(x=2594, y=370, xa="left", ya="top"),
         label="Manatee River Discharge (cfs)", lpos=(2223, 484), ls=21),
    dict(name="manatee_TN", x=tn_year, y=manatee_tn, color="#ffa500", box=(1675, 2202.5, 658, 906.7),
         yr=[-4.65, 96.7], yt=[0, 25, 50, 75], ytt=["0", "25", "50", "75"],
         xl=True, fs=16.5, lc="#3a3a3a", lw=2.0,
         leg=dict(x=2194, y=667, xa="right", ya="top"),
         label="Manatee River TN (mg/l)", lpos=(1623, 782), ls=21),
    dict(name="manatee_TP", x=tp_year, y=manatee_tp, color="#800080", box=(2308, 2835.5, 658, 906.7),
         yr=[-0.32, 7.11], yt=[0, 1.5, 3.0, 4.5, 6.0], ytt=["0.0", "1.5", "3.0", "4.5", "6.0"],
         xl=True, fs=16.5, lc="#3a3a3a", lw=2.2,
         leg=dict(x=2657, y=668, xa="left", ya="top"),
         label="Manatee River TP (mg/l)", lpos=(2251, 782), ls=21),
]

fig = go.Figure()
layout = dict(
    width=W, height=H, autosize=False,
    margin=dict(l=0, r=0, t=0, b=0, pad=0),
    paper_bgcolor="#d9d9d9", plot_bgcolor="#ffffff",
    font=dict(family=FONT, color="#111111"),
    showlegend=True,
    shapes=[
        dict(type="rect", xref="paper", yref="paper", x0=fx(38), x1=fx(1530), y0=0, y1=fy(36),
             fillcolor="#ffffff", line=dict(width=0), layer="below"),
        dict(type="rect", xref="paper", yref="paper", x0=fx(1582), x1=1, y0=0, y1=fy(36),
             fillcolor="#ffffff", line=dict(width=0), layer="below"),
    ],
)

annotations = []
for i, p in enumerate(panels, start=1):
    sfx = "" if i == 1 else str(i)
    leg_name = "legend" if i == 1 else f"legend{i}"
    x0, x1, y0, y1 = p["box"]
    fig.add_trace(go.Scatter(
        x=p["x"], y=p["y"], mode="lines", name=p["name"],
        line=dict(color=p["color"], width=p["lw"]),
        xaxis="x" + sfx, yaxis="y" + sfx, legend=leg_name,
        connectgaps=False, hoverinfo="skip",
    ))
    layout["xaxis" + sfx] = dict(
        domain=[fx(x0), fx(x1)], range=X_RANGE, anchor="y" + sfx,
        tickmode="array", tickvals=year_ticks, ticktext=[str(v) for v in year_ticks],
        showticklabels=p["xl"], ticks="outside", ticklen=7, tickwidth=1.5, tickcolor=p["lc"],
        showline=True, linewidth=2, linecolor=p["lc"], mirror=True,
        showgrid=True, gridcolor=GRID, gridwidth=1.2, zeroline=False,
        tickfont=dict(family=FONT, size=p["fs"], color="#1a1a1a"),
        fixedrange=True,
    )
    layout["yaxis" + sfx] = dict(
        domain=[fy(y1), fy(y0)], range=p["yr"], anchor="x" + sfx,
        tickmode="array", tickvals=p["yt"], ticktext=p["ytt"],
        ticks="outside", ticklen=7, tickwidth=1.5, tickcolor=p["lc"],
        showline=True, linewidth=2, linecolor=p["lc"], mirror=True,
        showgrid=True, gridcolor=GRID, gridwidth=1.5, zeroline=False,
        tickfont=dict(family=FONT, size=p["fs"], color="#1a1a1a"),
        ticklabelstandoff=5, fixedrange=True,
    )
    lg = p["leg"]
    layout[leg_name] = dict(
        x=fx(lg["x"]), y=fy(lg["y"]), xanchor=lg["xa"], yanchor=lg["ya"],
        xref="paper", yref="paper",
        bgcolor="rgba(255,255,255,0.85)", bordercolor="#cccccc", borderwidth=1.2,
        font=dict(family=FONT, size=17, color="#1a1a1a"),
        tracegroupgap=0, itemwidth=38,
    )
    annotations.append(dict(
        text=p["label"], x=fx(p["lpos"][0]), y=fy(p["lpos"][1]), xref="paper", yref="paper",
        textangle=-90, showarrow=False, xanchor="center", yanchor="middle",
        font=dict(family=FONT, size=p["ls"], color="#111111"),
    ))

annotations += [
    dict(text="Environmental Data Time Series", x=fx(812), y=fy(63), xref="paper", yref="paper",
         showarrow=False, xanchor="center", yanchor="middle",
         font=dict(family=FONT, size=32, color="#111111")),
    dict(text="1e8", x=fx(149), y=fy(258), xref="paper", yref="paper",
         showarrow=False, xanchor="left", yanchor="middle",
         font=dict(family=FONT, size=18, color="#111111")),
    dict(text="Date", x=fx(2572), y=fy(936), xref="paper", yref="paper",
         showarrow=False, xanchor="center", yanchor="top",
         font=dict(family=FONT, size=21, color="#111111")),
    dict(text="D", x=fx(1603), y=fy(43), xref="paper", yref="paper", textangle=-90,
         showarrow=False, xanchor="center", yanchor="middle",
         font=dict(family=FONT, size=21, color="#111111")),
]
layout["annotations"] = annotations
fig.update_layout(**layout)

fig.write_html(
    "out.html",
    config={"displayModeBar": False},
    post_script=("document.documentElement.style.overflow='hidden';"
                 "document.body.style.margin='0px';document.body.style.overflow='hidden';"),
)
